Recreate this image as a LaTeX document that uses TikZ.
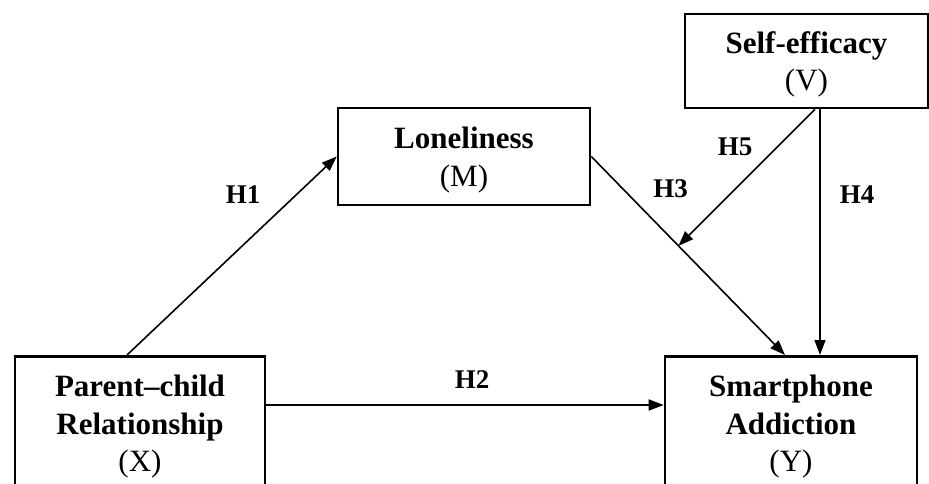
\documentclass[tikz,border=0pt]{standalone}
\usepackage{fontspec}
\setmainfont{Liberation Serif}
\usetikzlibrary{arrows.meta}

\begin{document}
\begin{tikzpicture}[x=1pt, y=-1pt,
    varbox/.style={draw, line width=2.6pt, align=center, inner xsep=4pt,
      font=\fontsize{31}{37.5}\selectfont},
    hyp/.style={font=\fontsize{27}{32}\selectfont\bfseries},
    path/.style={line width=1.6pt, -{Triangle[length=15pt, width=11pt]}}]
  \useasboundingbox (0,0) rectangle (929,483);
  \clip (0,0) rectangle (929,483);

  \node[varbox, anchor=north, minimum width=250pt, inner ysep=19pt] (X) at (140,355)
    {\textbf{Parent–child}\\ \textbf{Relationship}\\ (X)};
  \node[varbox, anchor=north, minimum width=252pt, inner ysep=19pt] (Y) at (791,355)
    {\textbf{Smartphone}\\ \textbf{Addiction}\\ (Y)};
  \node[varbox, minimum width=252pt, minimum height=97pt, text depth=0pt] (M) at (464,156.5)
    {\textbf{Loneliness}\\ (M)};
  \node[varbox, minimum width=243pt, minimum height=94pt, text depth=0pt] (V) at (806.5,61)
    {\textbf{Self-efficacy}\\ (V)};

  \node[hyp] (h1) at (243,195) {H1};
  \node[hyp] (h2) at (472,380) {H2};
  \node[hyp] (h3) at (670.5,189) {H3};
  \node[hyp] (h4) at (857,195) {H4};
  \node[hyp] (h5) at (735,147) {H5};

  \draw[path] ([xshift=-13pt]X.north) -- (M.west);
  \draw[path] ([yshift=-50pt]X.north east) -- ([yshift=-50pt]Y.north west);
  \draw[path] (M.east) -- coordinate[pos=0.45] (mod) ([xshift=-6pt]Y.north);
  \draw[path] ([xshift=13.5pt]V.south) -- ([xshift=29pt]Y.north);
  \draw[path] ([xshift=8.5pt]V.south) -- (mod);
\end{tikzpicture}
\end{document}
